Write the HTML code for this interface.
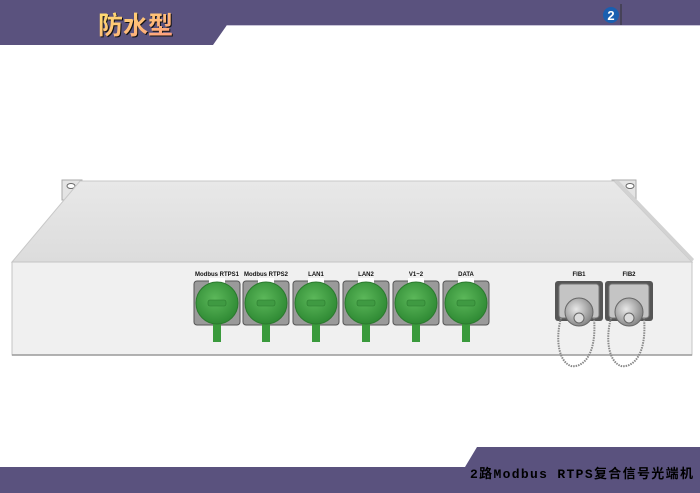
<!DOCTYPE html>
<html><head><meta charset="utf-8"><style>html,body{margin:0;padding:0;background:#fff;width:700px;height:493px;overflow:hidden}</style></head><body>
<svg width="700" height="493" viewBox="0 0 700 493" xmlns="http://www.w3.org/2000/svg" font-family="Liberation Sans, sans-serif">
<defs>
<linearGradient id="top" x1="0" y1="0" x2="0" y2="1"><stop offset="0" stop-color="#e8e8e8"/><stop offset="1" stop-color="#dcdcdc"/></linearGradient>
<linearGradient id="tg" x1="0" y1="0" x2="1" y2="1"><stop offset="0" stop-color="#ffe070"/><stop offset="1" stop-color="#ff9a80"/></linearGradient>
<radialGradient id="gr" cx="0.45" cy="0.4" r="0.6"><stop offset="0" stop-color="#5cb85a"/><stop offset="1" stop-color="#2f8a34"/></radialGradient>
<radialGradient id="mt" cx="0.4" cy="0.4" r="0.6"><stop offset="0" stop-color="#e8e8e8"/><stop offset="1" stop-color="#8a8a8a"/></radialGradient>
</defs>
<polygon points="0,0 700,0 700,25 227,25 213,45 0,45" fill="#5a527e"/>
<line x1="227" y1="25.5" x2="700" y2="25.5" stroke="#c8c4d8" stroke-width="1"/>
<text x="99" y="35" font-size="25" font-weight="bold" fill="#111" font-family="Liberation Sans, Noto Sans CJK SC, sans-serif">防水型</text>
<text x="98" y="34" font-size="25" font-weight="bold" fill="url(#tg)" font-family="Liberation Sans, Noto Sans CJK SC, sans-serif">防水型</text>
<circle cx="611" cy="15" r="8" fill="#1a5fb0"/><text x="611" y="20" font-size="13" font-weight="bold" fill="#fff" text-anchor="middle">2</text>
<line x1="621" y1="4" x2="621" y2="25" stroke="#333" stroke-width="1"/>
<!-- ears -->
<rect x="62" y="180" width="20" height="20" fill="#e4e4e4" stroke="#aaa"/><ellipse cx="71" cy="186" rx="4" ry="2.5" fill="#fff" stroke="#666"/>
<rect x="612" y="180" width="24" height="20" fill="#e4e4e4" stroke="#aaa"/><ellipse cx="630" cy="186" rx="4" ry="2.5" fill="#fff" stroke="#666"/>
<!-- chassis top -->
<polygon points="80,181 614,181 692,262 12,262" fill="url(#top)" stroke="#c8c8c8"/>
<polygon points="614,181 619,181 694,259 692,262" fill="#d2d2d2"/>
<rect x="12" y="262" width="680" height="93" fill="#f0f0f0" stroke="#c4c4c4"/>
<line x1="12" y1="355" x2="692" y2="355" stroke="#999" stroke-width="1.5"/>
<g font-size="6" font-weight="bold" fill="#111" text-anchor="middle">
<text x="217" y="276">Modbus RTPS1</text><text x="266" y="276">Modbus RTPS2</text><text x="316" y="276">LAN1</text><text x="366" y="276">LAN2</text><text x="416" y="276">V1~2</text><text x="466" y="276">DATA</text>
<text x="579" y="276">FIB1</text><text x="629" y="276">FIB2</text>
</g>
<g>
<g transform="translate(217,0)"><rect x="-23" y="281" width="46" height="44" rx="3" fill="#9a9a9a" stroke="#555"/><rect x="-8" y="278" width="16" height="5" fill="#fff"/><rect x="-4" y="320" width="8" height="22" fill="#3a9a3c"/><circle cx="0" cy="303" r="21" fill="url(#gr)" stroke="#2b7a2e"/><rect x="-9" y="300" width="18" height="6" rx="2" fill="#3f9a42" stroke="#2b7a2e" stroke-width="0.6"/></g>
<g transform="translate(266,0)"><rect x="-23" y="281" width="46" height="44" rx="3" fill="#9a9a9a" stroke="#555"/><rect x="-8" y="278" width="16" height="5" fill="#fff"/><rect x="-4" y="320" width="8" height="22" fill="#3a9a3c"/><circle cx="0" cy="303" r="21" fill="url(#gr)" stroke="#2b7a2e"/><rect x="-9" y="300" width="18" height="6" rx="2" fill="#3f9a42" stroke="#2b7a2e" stroke-width="0.6"/></g>
<g transform="translate(316,0)"><rect x="-23" y="281" width="46" height="44" rx="3" fill="#9a9a9a" stroke="#555"/><rect x="-8" y="278" width="16" height="5" fill="#fff"/><rect x="-4" y="320" width="8" height="22" fill="#3a9a3c"/><circle cx="0" cy="303" r="21" fill="url(#gr)" stroke="#2b7a2e"/><rect x="-9" y="300" width="18" height="6" rx="2" fill="#3f9a42" stroke="#2b7a2e" stroke-width="0.6"/></g>
<g transform="translate(366,0)"><rect x="-23" y="281" width="46" height="44" rx="3" fill="#9a9a9a" stroke="#555"/><rect x="-8" y="278" width="16" height="5" fill="#fff"/><rect x="-4" y="320" width="8" height="22" fill="#3a9a3c"/><circle cx="0" cy="303" r="21" fill="url(#gr)" stroke="#2b7a2e"/><rect x="-9" y="300" width="18" height="6" rx="2" fill="#3f9a42" stroke="#2b7a2e" stroke-width="0.6"/></g>
<g transform="translate(416,0)"><rect x="-23" y="281" width="46" height="44" rx="3" fill="#9a9a9a" stroke="#555"/><rect x="-8" y="278" width="16" height="5" fill="#fff"/><rect x="-4" y="320" width="8" height="22" fill="#3a9a3c"/><circle cx="0" cy="303" r="21" fill="url(#gr)" stroke="#2b7a2e"/><rect x="-9" y="300" width="18" height="6" rx="2" fill="#3f9a42" stroke="#2b7a2e" stroke-width="0.6"/></g>
<g transform="translate(466,0)"><rect x="-23" y="281" width="46" height="44" rx="3" fill="#9a9a9a" stroke="#555"/><rect x="-8" y="278" width="16" height="5" fill="#fff"/><rect x="-4" y="320" width="8" height="22" fill="#3a9a3c"/><circle cx="0" cy="303" r="21" fill="url(#gr)" stroke="#2b7a2e"/><rect x="-9" y="300" width="18" height="6" rx="2" fill="#3f9a42" stroke="#2b7a2e" stroke-width="0.6"/></g>
<g transform="translate(579,0)"><rect x="-24" y="281" width="48" height="40" rx="3" fill="#555"/><rect x="-20" y="284" width="40" height="34" rx="3" fill="#c4c4c4" stroke="#777"/><circle cx="0" cy="312" r="14" fill="url(#mt)" stroke="#666"/><circle cx="0" cy="318" r="5" fill="#ddd" stroke="#666"/><path d="M-18,318 C-24,340 -20,362 -8,366 C4,368 18,355 15,318" fill="none" stroke="#888" stroke-width="2" stroke-dasharray="1.5,1"/></g>
<g transform="translate(629,0)"><rect x="-24" y="281" width="48" height="40" rx="3" fill="#555"/><rect x="-20" y="284" width="40" height="34" rx="3" fill="#c4c4c4" stroke="#777"/><circle cx="0" cy="312" r="14" fill="url(#mt)" stroke="#666"/><circle cx="0" cy="318" r="5" fill="#ddd" stroke="#666"/><path d="M-18,318 C-24,340 -20,362 -8,366 C4,368 18,355 15,318" fill="none" stroke="#888" stroke-width="2" stroke-dasharray="1.5,1"/></g>
</g>
<polygon points="477,447 700,447 700,493 0,493 0,467 465,467" fill="#5a527e"/>
<text x="470" y="478" font-size="13" font-weight="bold" fill="#000" textLength="223" lengthAdjust="spacing" font-family="Liberation Mono, Noto Sans CJK SC, monospace">2路Modbus RTPS复合信号光端机</text>
</svg>
</body></html>
